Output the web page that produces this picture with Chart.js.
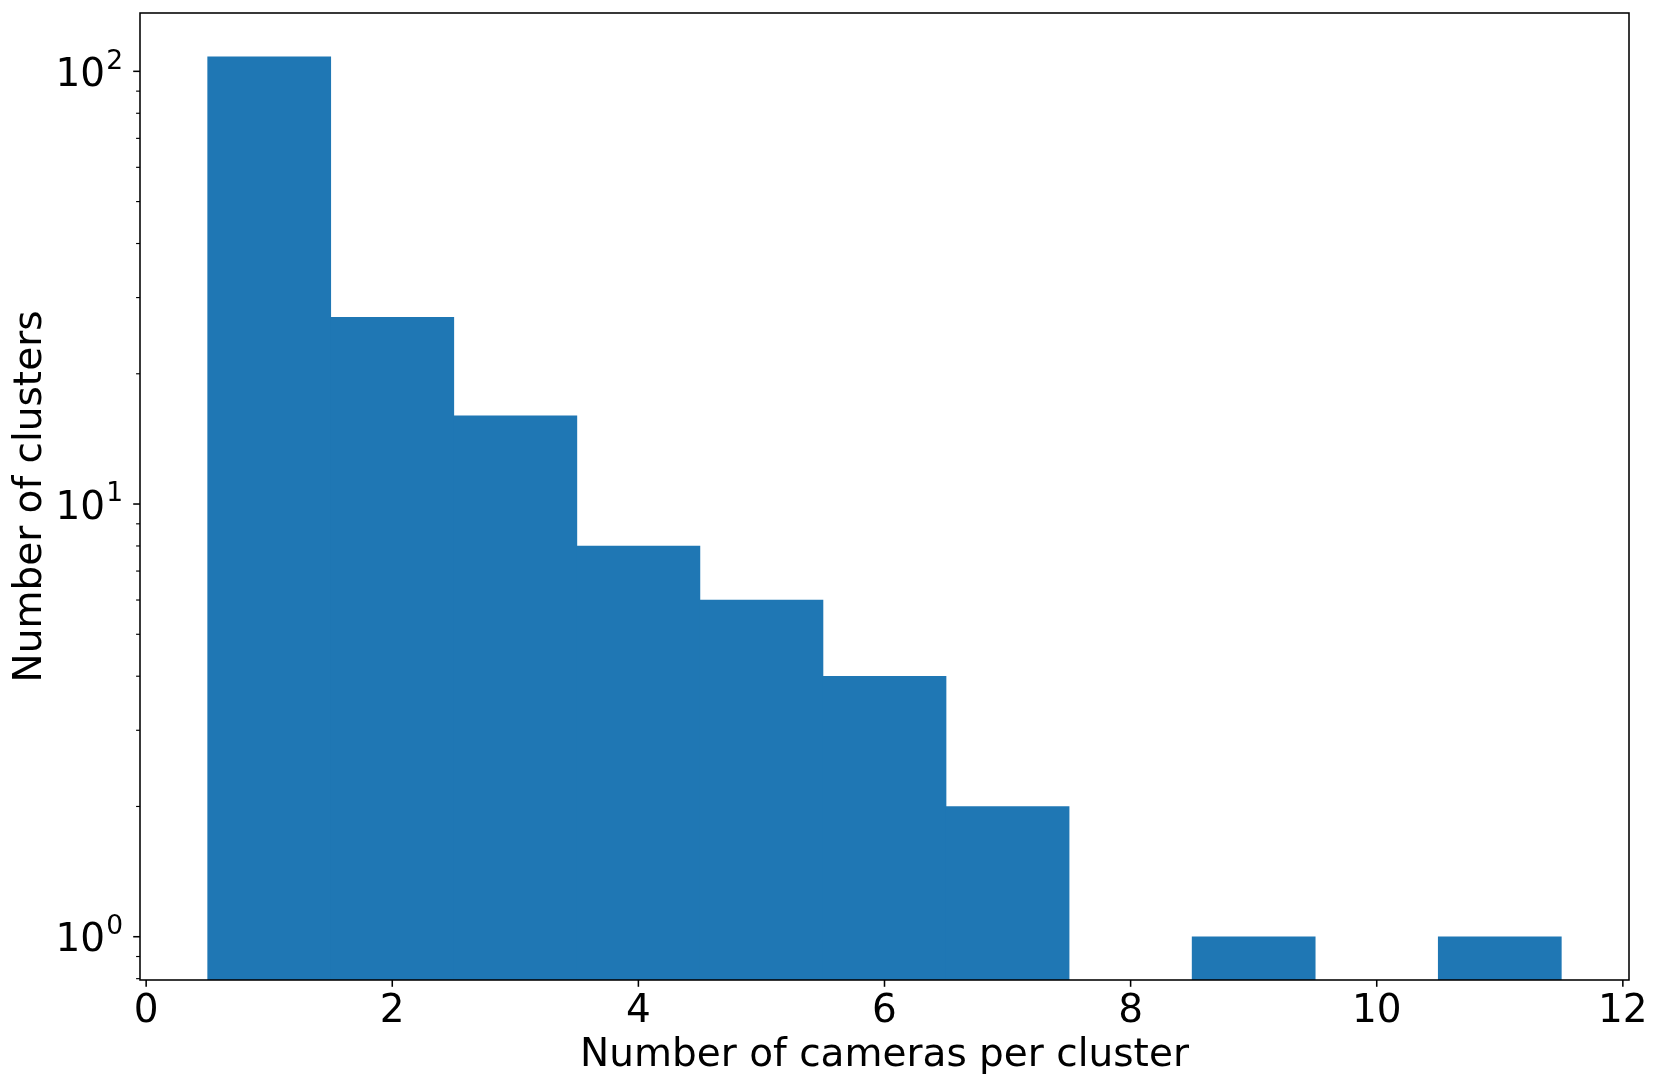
<!DOCTYPE html>
<html>
<head>
<meta charset="utf-8">
<script src="https://cdn.jsdelivr.net/npm/chart.js@4/dist/chart.umd.min.js"></script>
<style>
  html, body { margin: 0; padding: 0; background: #fff; }
  canvas { display: block; }
</style>
</head>
<body>
<canvas id="c" width="1661" height="1089"></canvas>
<script>
// ---- data ----
const binCenters = [1, 2, 3, 4, 5, 6, 7, 8, 9, 10, 11];
const counts = [108, 27, 16, 8, 6, 4, 2, 0, 1, 0, 1];
const xTickValues = [0, 2, 4, 6, 8, 10, 12];
const yTickValues = [0.8, 0.9, 1, 2, 3, 4, 5, 6, 7, 8, 9, 10, 20, 30, 40, 50, 60, 70, 80, 90, 100];
const yMajorTicks = [1, 10, 100];
const yMajorBase = ['10', '10', '10'];
const yMajorExp = ['0', '1', '2'];
const xTitle = 'Number of cameras per cluster';
const yTitle = 'Number of clusters';

const FONT = 'DejaVu Sans';
const barData = binCenters.map((c, i) => ({ x: c, y: counts[i] > 0 ? counts[i] : null }));

const frameTicks = {
  id: 'frameTicks',
  afterDraw(chart) {
    const { ctx, chartArea: a, scales: { x, y } } = chart;
    ctx.save();
    ctx.strokeStyle = '#000';
    y.ticks.forEach(t => {
      const py = y.getPixelForValue(t.value);
      const mi = yMajorTicks.indexOf(t.value);
      const major = mi >= 0;
      ctx.lineWidth = major ? 1.55 : 1.16;
      const len = major ? 6.8 : 3.9;
      ctx.beginPath(); ctx.moveTo(a.left, py); ctx.lineTo(a.left - len, py); ctx.stroke();
      if (major) {
        // mathtext-like label: base + raised exponent
        ctx.fillStyle = '#000';
        ctx.textBaseline = 'alphabetic';
        ctx.textAlign = 'right';
        const right = a.left - 17;
        ctx.font = '26.5px "' + FONT + '"';
        const ew = ctx.measureText(yMajorExp[mi]).width;
        ctx.fillText(yMajorExp[mi], right, py + 14.6 - 17.3);
        ctx.font = '39px "' + FONT + '"';
        ctx.fillText(yMajorBase[mi], right - ew - 1, py + 14.6);
      }
    });
    x.ticks.forEach(t => {
      const px = x.getPixelForValue(t.value);
      ctx.lineWidth = 1.55;
      ctx.beginPath(); ctx.moveTo(px, a.bottom); ctx.lineTo(px, a.bottom + 6.8); ctx.stroke();
    });
    ctx.lineWidth = 1.55;
    ctx.strokeRect(a.left, a.top, a.right - a.left, a.bottom - a.top);
    ctx.restore();
  }
};

new Chart(document.getElementById('c'), {
  type: 'bar',
  data: {
    datasets: [{
      data: barData,
      backgroundColor: '#1f77b4',
      borderWidth: 0,
      barPercentage: 1.0,
      categoryPercentage: 1.0
    }]
  },
  options: {
    responsive: false,
    devicePixelRatio: 1,
    animation: false,
    layout: { padding: { top: 13, right: 32, left: 0, bottom: 0 } },
    plugins: { legend: { display: false }, tooltip: { enabled: false } },
    scales: {
      x: {
        type: 'linear',
        min: -0.05,
        max: 12.05,
        offset: false,
        grid: { display: false },
        border: { display: false },
        afterBuildTicks: s => { s.ticks = xTickValues.map(v => ({ value: v })); },
        afterFit: s => { s.height = 109; s.paddingLeft = 0; s.paddingRight = 0; },
        ticks: {
          autoSkip: false,
          maxRotation: 0,
          padding: 0,
          color: '#000',
          font: { family: FONT, size: 39 },
          callback: v => String(v)
        },
        title: {
          display: true,
          text: xTitle,
          color: '#000',
          font: { family: FONT, size: 39 },
          padding: { top: 0, bottom: 10 }
        }
      },
      y: {
        type: 'logarithmic',
        min: 0.7943,
        max: 136.4,
        grid: { display: false },
        border: { display: false },
        afterBuildTicks: s => { s.ticks = yTickValues.map(v => ({ value: v })); },
        afterFit: s => { s.width = 140; s.paddingTop = 0; s.paddingBottom = 0; },
        ticks: {
          autoSkip: false,
          padding: 16,
          color: '#000',
          font: { family: FONT, size: 39 },
          callback: () => ''
        },
        title: {
          display: true,
          text: yTitle,
          color: '#000',
          font: { family: FONT, size: 39 },
          padding: { top: 7, bottom: 0 }
        }
      }
    }
  },
  plugins: [frameTicks]
});
</script>
</body>
</html>
